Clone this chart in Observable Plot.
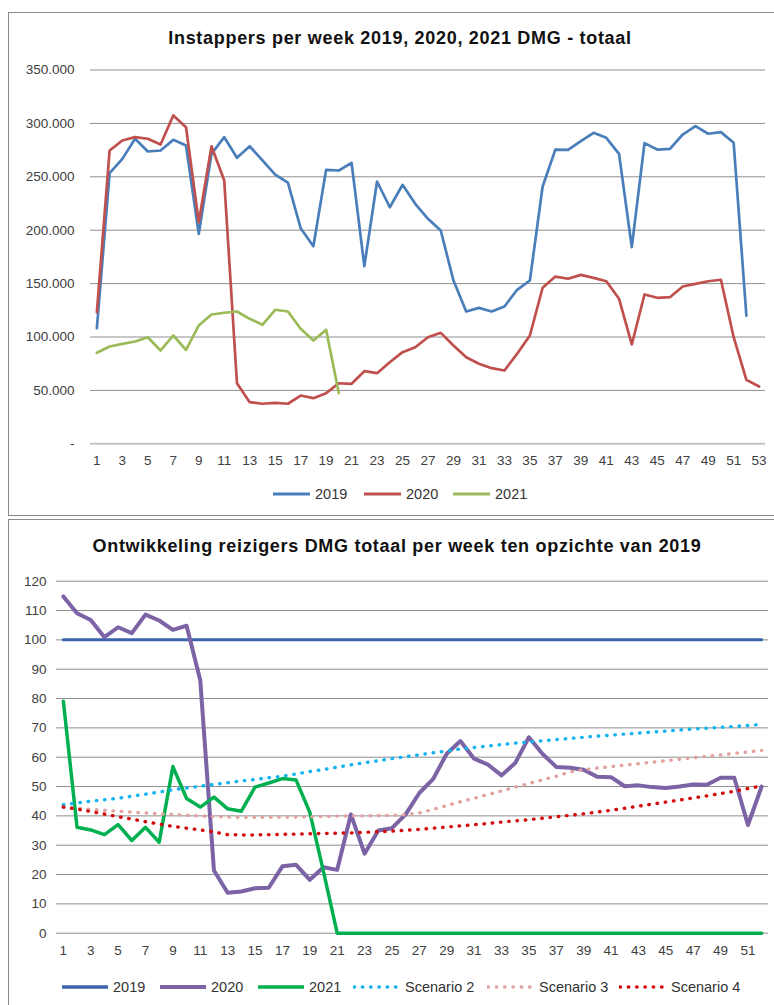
<!DOCTYPE html>
<html>
<head>
<meta charset="utf-8">
<script src="https://cdn.jsdelivr.net/npm/d3@7"></script>
<script src="https://cdn.jsdelivr.net/npm/@observablehq/plot@0.6"></script>
<style>
  html, body { margin: 0; padding: 0; width: 774px; height: 1005px; overflow: hidden; background: #fff; }
  body { position: relative; font-family: "Liberation Sans", Arial, sans-serif; }
  .frame { position: absolute; border: 1px solid #8a8a8a; box-sizing: border-box; }
  .title { position: absolute; text-align: center; font-weight: bold; font-size: 18px; letter-spacing: 0.7px; line-height: 20px; color: #111; white-space: nowrap; }
  .chart { position: absolute; left: 0; }
  .leg { position: absolute; display: flex; align-items: center; font-size: 14.5px; color: #333; white-space: nowrap; }
  .leg svg { display: block; margin-right: 4px; }
</style>
</head>
<body>
<div class="frame" style="left:8px; top:12px; width:800px; height:504px;"></div>
<div class="frame" style="left:8px; top:519px; width:800px; height:500px;"></div>
<div class="title" id="t1" style="left:0; width:800px; top:28px;">Instappers per week 2019, 2020, 2021 DMG - totaal</div>
<div class="title" id="t2" style="left:0; width:794px; top:536px;">Ontwikkeling reizigers DMG totaal per week ten opzichte van 2019</div>
<div class="chart" id="c1" style="top:0;"></div>
<div class="chart" id="c2" style="top:518px;"></div>
<div id="legends"></div>
<script>
// ---------- data: top chart (instappers, thousands) ----------
const weeks = [1,2,3,4,5,6,7,8,9,10,11,12,13,14,15,16,17,18,19,20,21,22,23,24,25,26,27,28,29,30,31,32,33,34,35,36,37,38,39,40,41,42,43,44,45,46,47,48,49,50,51,52,53];
const topXTicks = [1,3,5,7,9,11,13,15,17,19,21,23,25,27,29,31,33,35,37,39,41,43,45,47,49,51,53];
const topYTicks = [0,50,100,150,200,250,300,350];
const topYTickLabels = ["-","50.000","100.000","150.000","200.000","250.000","300.000","350.000"];
const topSeries = ["2019","2020","2021"];
const topColors = ["#4a7ebb","#c0504d","#9bbb59"];

const inst2019 = [108.2,253.4,266.8,285.6,273.7,274.6,284.6,279.3,196.6,271.5,287.1,267.8,278.6,265.3,252.0,244.6,201.9,185.0,256.5,255.9,263.1,166.3,245.6,221.5,242.5,224.7,210.7,199.7,152.9,123.9,127.3,123.9,128.6,144.2,152.9,240.9,275.5,275.2,283.3,291.2,286.5,271.5,184.1,281.5,275.5,276.2,289.6,297.4,290.3,291.8,281.8,120.1];
const inst2020 = [123.2,274.6,284.0,287.1,285.6,280.2,307.4,296.4,207.5,278.6,246.5,56.7,39.0,37.5,38.4,37.5,45.2,42.7,47.4,56.7,56.2,68.0,66.1,76.4,85.8,90.4,99.8,103.9,92.0,81.1,74.9,70.8,68.6,84.3,101.4,146.1,156.6,154.5,158.2,155.4,152.2,135.8,93.0,139.8,136.7,137.3,147.3,149.8,152.2,153.6,99.8,59.9,53.6];
const inst2021 = [85.2,91.1,93.6,95.8,99.8,87.4,101.4,88.0,110.8,121.1,122.7,123.9,117.0,111.4,125.5,123.9,107.7,96.7,106.7,47.4];

// ---------- data: bottom chart (index vs 2019) ----------
const botXTicks = [1,3,5,7,9,11,13,15,17,19,21,23,25,27,29,31,33,35,37,39,41,43,45,47,49,51];
const botYTicks = [0,10,20,30,40,50,60,70,80,90,100,110,120];
const botYTickLabels = ["0","10","20","30","40","50","60","70","80","90","100","110","120"];
const botSeries = ["2019","2020","2021","Scenario 2","Scenario 3","Scenario 4"];
const botColors = ["#3b64ad","#7b63a6","#00b050","#12b3ee","#e2a2a2","#d40a0a"];

const idx2019 = [100,100,100,100,100,100,100,100,100,100,100,100,100,100,100,100,100,100,100,100,100,100,100,100,100,100,100,100,100,100,100,100,100,100,100,100,100,100,100,100,100,100,100,100,100,100,100,100,100,100,100,100];
const idx2020 = [114.8,109.1,106.8,100.9,104.3,102.3,108.6,106.6,103.4,104.8,86.2,21.4,13.8,14.2,15.3,15.5,22.8,23.3,18.2,22.5,21.6,40.5,27.1,35.0,35.8,40.5,47.8,52.5,61.2,65.5,59.5,57.5,53.8,58.0,66.8,61.1,56.7,56.4,55.7,53.3,53.2,50.1,50.4,49.8,49.5,50.0,50.7,50.6,53.0,53.0,36.9,50.0];
const idx2021 = [79.1,36.1,35.2,33.6,37.0,31.6,36.1,31.0,56.8,45.9,43.0,46.4,42.4,41.6,49.8,51.2,52.7,52.2,41.2,21.0,0,0,0,0,0,0,0,0,0,0,0,0,0,0,0,0,0,0,0,0,0,0,0,0,0,0,0,0,0,0,0,0];
const scen2 = [43.8,44.4,45.0,45.5,46.0,46.7,47.4,48.1,48.9,49.5,50.1,50.7,51.3,51.9,52.4,53.0,53.5,54.3,55.1,55.8,56.6,57.4,58.1,58.8,59.5,60.2,60.8,61.5,62.1,62.8,63.3,63.8,64.3,64.8,65.2,65.6,66.0,66.4,66.8,67.2,67.5,67.9,68.2,68.6,68.9,69.3,69.6,69.9,70.2,70.5,70.8,71.2];
const scen3 = [43.0,42.6,42.2,41.9,41.6,41.3,41.0,40.7,40.5,40.2,40.0,39.8,39.6,39.5,39.5,39.5,39.6,39.6,39.7,39.8,39.9,40.0,40.0,40.1,40.2,40.4,41.0,42.2,43.5,44.8,46.0,47.3,48.5,49.8,51.0,52.3,53.5,55.0,55.7,56.3,56.8,57.3,57.8,58.3,58.8,59.3,59.8,60.3,60.8,61.3,61.8,62.3];
const scen4 = [43.0,42.3,41.5,40.6,39.7,38.9,38.0,37.2,36.4,35.8,35.2,34.5,33.6,33.5,33.5,33.6,33.7,33.8,33.9,34.0,34.1,34.2,34.4,34.6,34.8,35.1,35.4,35.8,36.2,36.6,37.0,37.4,37.9,38.3,38.7,39.2,39.7,40.2,40.7,41.3,41.9,42.6,43.3,44.0,44.7,45.4,46.1,46.8,47.6,48.4,49.3,50.2];

// ---------- build tables ----------
const toRows = (vals, name) => vals.map((v, i) => ({week: weeks[i], value: v, series: name}));
const topData = [toRows(inst2019, topSeries[0]), toRows(inst2020, topSeries[1]), toRows(inst2021, topSeries[2])];
const botData = [toRows(idx2019, botSeries[0]), toRows(idx2020, botSeries[1]), toRows(idx2021, botSeries[2]),
                 toRows(scen2, botSeries[3]), toRows(scen3, botSeries[4]), toRows(scen4, botSeries[5])];

const axisStyle = {fontFamily: "'Liberation Sans', Arial, sans-serif", fontSize: "13.5px", color: "#404040", background: "transparent", overflow: "visible"};

const chart1 = Plot.plot({
  width: 774, height: 510,
  marginLeft: 90, marginRight: 9, marginTop: 69.5, marginBottom: 66.7,
  style: axisStyle,
  x: {type: "linear", domain: [0.5, 53.5], ticks: topXTicks, tickSize: 0, tickPadding: 12, label: null, tickFormat: d => String(d)},
  y: {domain: [0, 350], ticks: topYTicks, tickSize: 0, tickPadding: 16, label: null,
      tickFormat: d => topYTickLabels[topYTicks.indexOf(d)]},
  marks: [
    Plot.ruleY(topYTicks.filter(d => d > 0), {stroke: "#8f8f8f", strokeWidth: 1}),
    Plot.ruleY([0], {stroke: "#c4c4c4", strokeWidth: 2}),
    ...topData.map((rows, i) => Plot.line(rows, {x: "week", y: "value", stroke: topColors[i], strokeWidth: 2.7}))
  ]
});
document.getElementById("c1").appendChild(chart1);

const dotted = "0.5 7.8";
const botWidths = [3, 4, 3.5, 3.4, 3.4, 3.4];
const chart2 = Plot.plot({
  width: 774, height: 487,
  marginLeft: 56, marginRight: 6, marginTop: 62.7, marginBottom: 72.3,
  style: axisStyle,
  x: {type: "linear", domain: [0.5, 52.5], ticks: botXTicks, tickSize: 0, tickPadding: 12.5, label: null, tickFormat: d => String(d)},
  y: {domain: [0, 120], ticks: botYTicks, tickSize: 0, tickPadding: 10, label: null,
      tickFormat: d => botYTickLabels[botYTicks.indexOf(d)]},
  marks: [
    Plot.ruleY(botYTicks, {stroke: "#8f8f8f", strokeWidth: 1}),
    ...botData.map((rows, i) => Plot.line(rows, {
      x: "week", y: "value", stroke: botColors[i], strokeWidth: botWidths[i],
      strokeDasharray: i >= 3 ? dotted : null, strokeLinecap: "round", strokeLinejoin: "round"
    }))
  ]
});
document.getElementById("c2").appendChild(chart2);

// ---------- legends ----------
function legendItem(x, yCenter, len, color, width, dash, label) {
  const d = document.createElement("div");
  d.className = "leg";
  d.style.left = x + "px";
  d.style.top = (yCenter - 10) + "px";
  d.style.height = "20px";
  const svg = d3.create("svg").attr("width", len + 2).attr("height", 10);
  svg.append("line").attr("x1", 1).attr("x2", len + 1).attr("y1", 5).attr("y2", 5)
    .attr("stroke", color).attr("stroke-width", width)
    .attr("stroke-linecap", dash ? "round" : "butt")
    .attr("stroke-dasharray", dash || null);
  d.appendChild(svg.node());
  const s = document.createElement("span");
  s.textContent = label;
  d.appendChild(s);
  document.getElementById("legends").appendChild(d);
}
const topLegX = [272, 363, 452];
topSeries.forEach((s, i) => legendItem(topLegX[i], 494, 37, topColors[i], 3, null, s));
const botLegX = [61, 159, 257, 353, 487, 619];
botSeries.forEach((s, i) => legendItem(botLegX[i], 987, 46, botColors[i], i === 1 ? 4 : 3.4, i >= 3 ? dotted : null, s));
</script>
</body>
</html>
